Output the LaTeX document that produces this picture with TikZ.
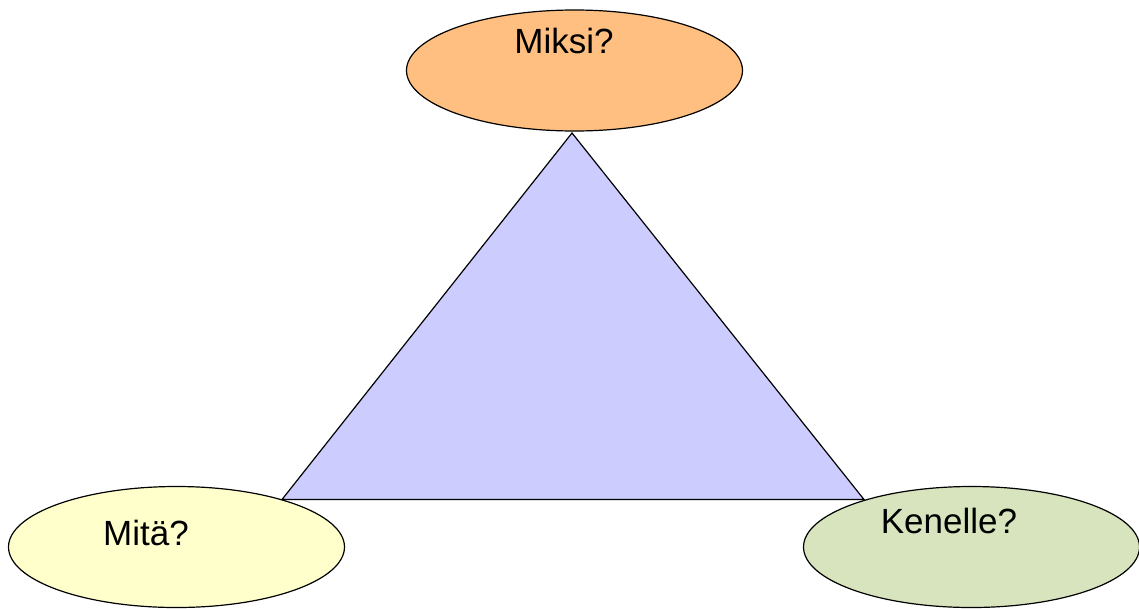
\documentclass[tikz,border=0pt]{standalone}
\usepackage{fontspec}
\setmainfont{Liberation Sans}
\usetikzlibrary{shapes.geometric}
\definecolor{orangefill}{RGB}{255,191,128}
\definecolor{trifill}{RGB}{204,204,255}
\definecolor{yellowfill}{RGB}{255,255,204}
\definecolor{greenfill}{RGB}{215,228,189}
\tikzset{
  oval/.style={ellipse, draw=black, line width=1.2pt, minimum width=336pt, minimum height=121pt, inner sep=0pt},
  lbl/.style={anchor=base, inner sep=0pt, font=\fontsize{35}{41}\selectfont},
}
\begin{document}
\begin{tikzpicture}[x=1pt, y=-1pt]
\useasboundingbox (0,0) rectangle (1139,608);
\coordinate (apex) at (572,133);
\coordinate (bl) at (282,499.5);
\coordinate (br) at (864,499.5);
\draw[fill=trifill, line width=1.2pt, line join=miter] (apex) -- (bl) -- (br) -- cycle;
\node[oval, fill=orangefill] (top) at (574.5,70.5) {};
\node[oval, fill=yellowfill] (left) at (176.5,547) {};
\node[oval, fill=greenfill] (right) at (971.5,547) {};
\node[lbl] (miksi) at (564,53) {Miksi?};
\node[lbl] (mita) at (146,545) {Mitä?};
\node[lbl] (kenelle) at (949,533) {Kenelle?};
\end{tikzpicture}
\end{document}
